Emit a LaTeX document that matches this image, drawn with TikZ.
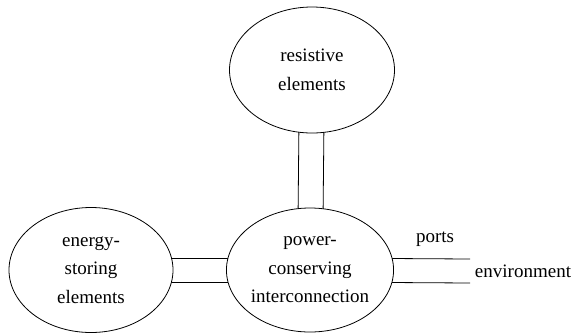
\documentclass[tikz,border=0pt]{standalone}
\usepackage{fontspec}
\setmainfont{Liberation Serif}
\usetikzlibrary{shapes.geometric,backgrounds}
\tikzset{
  blob/.style={draw, ellipse, fill=white, inner sep=0pt, align=center,
    font=\fontsize{19}{28.5}\selectfont, line width=0.8pt},
  bond/.style={line width=0.8pt},
  lbl/.style={font=\fontsize{19}{22}\selectfont, inner sep=0pt}
}
\begin{document}
\begin{tikzpicture}[x=1pt,y=-1pt]
			\useasboundingbox (0,0) rectangle (583,333);
			\node	(res) at (312,70) [blob, minimum width=165pt, minimum height=126pt] {resistive\\elements};
			\node	(pci) at (310,270) [blob, minimum width=166pt, minimum height=124pt] {power-\\conserving\\interconnection};
			\node	(sto) at (91,270) [blob, minimum width=164pt, minimum height=125pt] {energy-\\storing\\elements};
			\coordinate (env) at (470,271);
			\node	(ports) at (435,239) [lbl] {ports};
			\node	(envl) at (523,271) [lbl] {environment};
			
			\begin{pgfonlayer}{background}
			\draw[bond]
			([xshift=-12.5pt]res.center) edge ([xshift=-12.5pt]pci.center)
			([xshift=12.5pt]res.center) edge ([xshift=12.5pt]pci.center)
			([yshift=12pt]sto.center) edge ([yshift=12pt]pci.center)
			([yshift=-12pt]sto.center) edge ([yshift=-12pt]pci.center)
			([yshift=12pt]pci.center) edge ([yshift=12pt]env)
			([yshift=-12pt]pci.center) edge ([yshift=-12pt]env)
			;
			\end{pgfonlayer}
		\end{tikzpicture}
\end{document}
